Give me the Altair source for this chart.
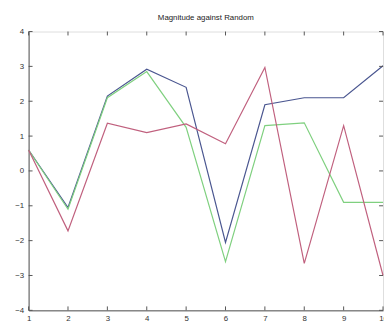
import altair as alt
import pandas as pd

xs = [1, 2, 3, 4, 5, 6, 7, 8, 9, 10]
blue = [0.6, -1.05, 2.15, 2.92, 2.4, -2.05, 1.9, 2.1, 2.1, 3.02]
green = [0.6, -1.1, 2.1, 2.85, 1.25, -2.6, 1.3, 1.38, -0.9, -0.9]
red = [0.6, -1.72, 1.37, 1.1, 1.35, 0.78, 2.97, -2.65, 1.3, -3.0]
x_ticks = list(range(1, 11))
y_ticks = list(range(-4, 5))
title = "Magnitude against Random"

rows = []
for name, vals in [("blue", blue), ("green", green), ("red", red)]:
    for x, v in zip(xs, vals):
        rows.append({"x": x, "y": v, "s": name})
df = pd.DataFrame(rows)

W, H = 361, 284
FONT = "Liberation Sans"
AX = "#555555"

xsc = alt.Scale(domain=[1, 10], nice=False, zero=False)
ysc = alt.Scale(domain=[-4, 4], nice=False, zero=False)
xax = alt.Axis(values=x_ticks, title=None, tickSize=0, labelPadding=4,
               labelFontSize=8, labelColor="#333", domainColor=AX,
               grid=False, labelFont=FONT, format="d",
               labelOverlap=False, labelFlush=False)
yax = alt.Axis(values=y_ticks, title=None, tickSize=0, labelPadding=5,
               labelFontSize=8, labelColor="#333", domainColor=AX,
               grid=False, labelFont=FONT, format="d",
               labelOverlap=False, labelFlush=False)

lines = alt.Chart(df).mark_line(strokeWidth=1.2).encode(
    x=alt.X("x:Q", scale=xsc, axis=xax),
    y=alt.Y("y:Q", scale=ysc, axis=yax),
    color=alt.Color("s:N", scale=alt.Scale(domain=["blue", "green", "red"],
                                          range=["#4a5690", "#7fd07f", "#c0607e"]),
                    legend=None),
    detail="s:N",
)

xt = pd.DataFrame({"x": x_ticks})
yt = pd.DataFrame({"y": y_ticks})
tick_color = AX
bot = alt.Chart(xt).mark_rule(color=tick_color, strokeWidth=1).encode(
    x=alt.X("x:Q", scale=xsc, axis=xax), y=alt.value(H), y2=alt.value(H - 4))
top = alt.Chart(xt).mark_rule(color=tick_color, strokeWidth=1).encode(
    x=alt.X("x:Q", scale=xsc, axis=xax), y=alt.value(0), y2=alt.value(4))
left = alt.Chart(yt).mark_rule(color=tick_color, strokeWidth=1).encode(
    y=alt.Y("y:Q", scale=ysc, axis=yax), x=alt.value(0), x2=alt.value(4))
right = alt.Chart(yt).mark_rule(color=tick_color, strokeWidth=1).encode(
    y=alt.Y("y:Q", scale=ysc, axis=yax), x=alt.value(W - 4), x2=alt.value(W))

chart = alt.layer(lines, bot, top, left, right).properties(
    width=W, height=H,
    title=alt.TitleParams(title, fontSize=8, fontWeight="normal", font=FONT,
                          color="#222", offset=6),
    autosize=alt.AutoSizeParams(type="none"),
    padding={"left": 21, "top": 21, "right": 1, "bottom": 14},
).configure_view(stroke=AX, strokeWidth=1).configure(background="white")

chart.save("out.html", embed_options={"renderer": "svg", "actions": False})
